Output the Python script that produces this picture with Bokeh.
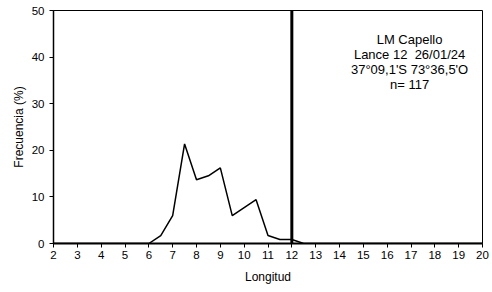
from bokeh.plotting import figure
from bokeh.models import Span, Label, FixedTicker, Range1d
from bokeh.embed import file_html
from bokeh.resources import INLINE

longitud = [2.0, 2.5, 3.0, 3.5, 4.0, 4.5, 5.0, 5.5, 6.0, 6.5, 7.0, 7.5, 8.0, 8.5,
            9.0, 9.5, 10.0, 10.5, 11.0, 11.5, 12.0, 12.5, 13.0, 13.5, 14.0, 14.5,
            15.0, 15.5, 16.0, 16.5, 17.0, 17.5, 18.0, 18.5, 19.0, 19.5, 20.0]
frecuencia = [0, 0, 0, 0, 0, 0, 0, 0, 0, 1.71, 5.98, 21.37, 13.68, 14.53,
              16.24, 5.98, 7.69, 9.40, 1.71, 0.85, 0.85, 0, 0, 0, 0, 0,
              0, 0, 0, 0, 0, 0, 0, 0, 0, 0, 0]
x_ticks = list(range(2, 21))
y_ticks = [0, 10, 20, 30, 40, 50]
talla_minima = 12
info_lines = ["LM Capello", "Lance 12\u00a0 26/01/24", "37°09,1'S 73°36,5'O", "n= 117"]

FONT = "Liberation Sans"

p = figure(width=492, height=292, output_backend="svg", toolbar_location=None,
           x_range=Range1d(2, 20), y_range=Range1d(0, 50),
           min_border_left=53, min_border_right=10, min_border_top=10, min_border_bottom=49)
p.grid.visible = False
p.background_fill_color = "white"
p.outline_line_color = "black"
p.outline_line_width = 1

p.line(longitud, frecuencia, line_color="black", line_width=1.5)
p.add_layout(Span(location=talla_minima, dimension="height", line_color="black", line_width=3))

for i, t in enumerate(info_lines):
    p.add_layout(Label(x=16.94, y=43.88 - 3.22 * i, text=t, text_align="center",
                       text_baseline="alphabetic", text_font=FONT, text_font_size="13px",
                       text_color="black"))

for ax in (p.xaxis[0], p.yaxis[0]):
    ax.axis_line_color = "black"
    ax.major_tick_line_color = "black"
    ax.minor_tick_line_color = None
    ax.major_tick_in = 0
    ax.major_tick_out = 4
    ax.major_label_text_font = FONT
    ax.major_label_text_font_size = "11.5px"
    ax.major_label_text_color = "black"
    ax.axis_label_text_font = FONT
    ax.axis_label_text_font_size = "12px"
    ax.axis_label_text_font_style = "normal"
    ax.axis_label_text_color = "black"

p.xaxis.ticker = FixedTicker(ticks=x_ticks)
p.yaxis.ticker = FixedTicker(ticks=y_ticks)
p.xaxis.axis_label = "Longitud"
p.yaxis.axis_label = "Frecuencia (%)"
p.xaxis.axis_line_width = 2
p.yaxis.axis_line_width = 1.5
p.xaxis.major_label_standoff = 3
p.yaxis.major_label_standoff = 5
p.xaxis.axis_label_standoff = 8
p.yaxis.axis_label_standoff = 3

open("out.html", "w").write(file_html(p, INLINE))
